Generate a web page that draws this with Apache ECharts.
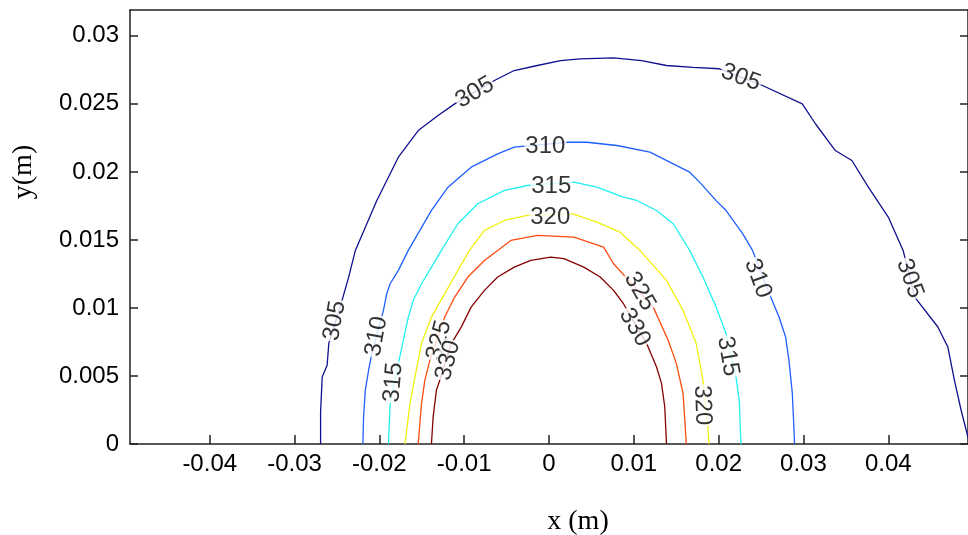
<!DOCTYPE html>
<html>
<head>
<meta charset="utf-8">
<script src="https://cdn.jsdelivr.net/npm/echarts@6/dist/echarts.min.js"></script>
<style>html,body{margin:0;padding:0;background:#fff;}#chart{width:968px;height:535px;}</style>
</head>
<body>
<div id="chart"></div>
<script>
// ---- data ----
const levels = [305, 310, 315, 320, 325, 330];
const xTicks = [-0.04, -0.03, -0.02, -0.01, 0, 0.01, 0.02, 0.03, 0.04];
const yTicks = [0, 0.005, 0.01, 0.015, 0.02, 0.025, 0.03];

const c305 = [[-0.02693,0],[-0.02693,0.00235],[-0.02674,0.00492],[-0.02616,0.00578],[-0.02596,0.0074],[-0.0244,0.01056],[-0.02362,0.01227],[-0.02283,0.01423],[-0.0203,0.0179],[-0.01776,0.02108],[-0.01542,0.02304],[-0.01308,0.02415],[-0.01112,0.025],[-0.00644,0.02672],[-0.0041,0.02745],[-0.00137,0.02782],[0.00136,0.02818],[0.0037,0.02831],[0.00761,0.02838],[0.01092,0.02818],[0.01385,0.02782],[0.01698,0.02769],[0.02009,0.02758],[0.02517,0.02635],[0.02986,0.025],[0.03141,0.02354],[0.03376,0.02157],[0.03571,0.02084],[0.03765,0.01888],[0.04,0.01668],[0.04175,0.01423],[0.04195,0.01374],[0.04312,0.0108],[0.04585,0.0086],[0.04702,0.00713],[0.0478,0.00468],[0.04859,0.00248],[0.0496,0]];
const c310 = [[-0.02194,0],[-0.02186,0.00198],[-0.02166,0.00394],[-0.02127,0.00541],[-0.02089,0.00664],[-0.01952,0.00982],[-0.01913,0.01105],[-0.01873,0.01178],[-0.01776,0.01276],[-0.01659,0.01423],[-0.01386,0.01717],[-0.01191,0.01888],[-0.00918,0.02035],[-0.00605,0.02133],[-0.0041,0.02182],[0.00214,0.02218],[0.00448,0.02218],[0.008,0.02194],[0.0119,0.02145],[0.01658,0.01998],[0.01775,0.01925],[0.01971,0.01789],[0.02088,0.01716],[0.02283,0.01546],[0.024,0.01423],[0.02614,0.0108],[0.02712,0.00933],[0.0279,0.00786],[0.02829,0.00615],[0.02869,0.0037],[0.02887,0.00125],[0.02895,0]];
const c315 = [[-0.01893,0],[-0.01873,0.00297],[-0.01776,0.00591],[-0.01718,0.00762],[-0.01659,0.00933],[-0.016,0.01056],[-0.01503,0.01178],[-0.01386,0.013],[-0.01269,0.01423],[-0.01074,0.01619],[-0.0084,0.01766],[-0.00527,0.01864],[-0.00254,0.019],[0.00293,0.01925],[0.00566,0.01888],[0.00878,0.01814],[0.01034,0.0179],[0.01268,0.01716],[0.01464,0.01619],[0.01658,0.01423],[0.01815,0.01227],[0.01971,0.01006],[0.02088,0.00811],[0.02205,0.00492],[0.02243,0.00321],[0.02263,0]];
const c320 = [[-0.01698,0],[-0.01639,0.00297],[-0.01581,0.00492],[-0.01503,0.00738],[-0.01386,0.00933],[-0.01229,0.01105],[-0.01074,0.01276],[-0.00937,0.01423],[-0.00761,0.0157],[-0.00527,0.01643],[-0.00254,0.0168],[0.00273,0.01693],[0.00566,0.01631],[0.00838,0.01557],[0.01072,0.01423],[0.01385,0.01203],[0.01581,0.00982],[0.01736,0.00738],[0.01815,0.00468],[0.01873,0.00125],[0.01885,0]];
const c325 = [[-0.01542,0],[-0.01503,0.00297],[-0.01464,0.00468],[-0.01405,0.00615],[-0.01229,0.00933],[-0.01112,0.0108],[-0.00957,0.01227],[-0.00761,0.01349],[-0.00605,0.01423],[-0.0045,0.01496],[-0.00137,0.01533],[0.00293,0.01521],[0.00644,0.01447],[0.00761,0.01325],[0.01229,0.01006],[0.01405,0.00762],[0.01502,0.00591],[0.01581,0.0037],[0.01619,0]];
const c330 = [[-0.01386,0],[-0.01366,0.00198],[-0.01328,0.00394],[-0.01288,0.00468],[-0.01152,0.00738],[-0.01035,0.00859],[-0.00918,0.01006],[-0.00761,0.01129],[-0.00605,0.01227],[-0.0041,0.013],[-0.00215,0.01349],[0.00019,0.01374],[0.00176,0.01362],[0.0041,0.013],[0.00604,0.01227],[0.00761,0.01129],[0.00878,0.01031],[0.01151,0.00738],[0.01268,0.00566],[0.01327,0.00444],[0.01365,0.00272],[0.01385,0]];

// label anchor points on each contour (data units)
const lab305 = [[-0.02526,0.00907],[-0.00875,0.02584],[0.02263,0.02694],[0.04254,0.01217]];
const lab310 = [[-0.02034,0.00791],[-0.00043,0.02187],[0.02463,0.01217]];
const lab315 = [[-0.01835,0.00453],[0.00027,0.01893],[0.0211,0.00644]];
const lab320 = [[0.00015,0.01665],[0.01807,0.00284]];
const lab325 = [[-0.01296,0.00762],[0.0107,0.01122]];
const lab330 = [[-0.01191,0.00615],[0.01011,0.00857]];

// ---- styles ----
const curves = [c305, c310, c315, c320, c325, c330];
const labelSets = [lab305, lab310, lab315, lab320, lab325, lab330];
const labelRot = [[80, 30, -20, -70], [80, 0, -70], [85, 0, -80], [0, -88], [75, -60], [75, -60]];
const colors = ['#10108f', '#1f5fff', '#20f0f0', '#f0f010', '#ff4a10', '#850000'];

const fmt = v => String(+(+v).toFixed(4));
const series = [];
levels.forEach((lv, i) => {
  series.push({
    type: 'line', data: curves[i], showSymbol: false, symbol: 'none',
    lineStyle: { color: colors[i], width: 1.3 }, clip: true, z: 2, animation: false
  });
  series.push({
    type: 'scatter', symbolSize: 0, z: 5, animation: false, silent: true,
    data: labelSets[i].map((p, k) => ({ value: p, label: { rotate: labelRot[i][k] } })),
    label: {
      show: true, position: 'inside', formatter: String(lv), color: '#000',
      fontFamily: 'Liberation Sans, Arial, sans-serif', fontSize: 24,
      backgroundColor: '#fff', padding: [0, 1], lineHeight: 22
    }
  });
});

const axisLineStyle = { color: '#222', width: 1.5 };
const chart = echarts.init(document.getElementById('chart'), null, { renderer: 'canvas' });
chart.setOption({
  backgroundColor: '#fff',
  animation: false,
  grid: { left: 130, top: 10, right: -6, bottom: 91, containLabel: false },
  xAxis: [{
    type: 'value', min: -0.0494, max: 0.0494, position: 'bottom',
    axisLine: { show: true, onZero: false, lineStyle: axisLineStyle },
    axisTick: { show: true, inside: true, length: 9, lineStyle: axisLineStyle, customValues: xTicks },
    axisLabel: { show: true, margin: 8, color: '#000', fontSize: 24, fontFamily: 'Liberation Sans, Arial, sans-serif', customValues: xTicks, formatter: fmt },
    splitLine: { show: false }
  }, {
    type: 'value', min: -0.0494, max: 0.0494, position: 'top',
    axisLine: { show: true, onZero: false, lineStyle: axisLineStyle },
    axisTick: { show: false }, axisLabel: { show: false }, splitLine: { show: false }
  }],
  yAxis: [{
    type: 'value', min: 0, max: 0.0319, position: 'left',
    axisLine: { show: true, onZero: false, lineStyle: axisLineStyle },
    axisTick: { show: true, inside: true, length: 8, lineStyle: axisLineStyle, customValues: yTicks },
    axisLabel: { show: true, margin: 11, color: '#000', fontSize: 24, fontFamily: 'Liberation Sans, Arial, sans-serif', customValues: yTicks, formatter: fmt },
    splitLine: { show: false }
  }, {
    type: 'value', min: 0, max: 0.0319, position: 'right',
    axisLine: { show: true, onZero: false, lineStyle: axisLineStyle },
    axisTick: { show: true, inside: true, length: 8, lineStyle: axisLineStyle, customValues: yTicks },
    axisLabel: { show: false }, splitLine: { show: false }
  }],
  graphic: [
    { type: 'text', x: 578, y: 522, style: { text: 'x (m)', font: '28px "Liberation Serif", "Times New Roman", serif', fill: '#000', align: 'center', verticalAlign: 'middle' } },
    { type: 'text', x: 24, y: 172, rotation: Math.PI / 2, style: { text: 'y(m)', font: '28px "Liberation Serif", "Times New Roman", serif', fill: '#000', align: 'center', verticalAlign: 'middle' } }
  ],
  series: series
});
</script>
</body>
</html>
